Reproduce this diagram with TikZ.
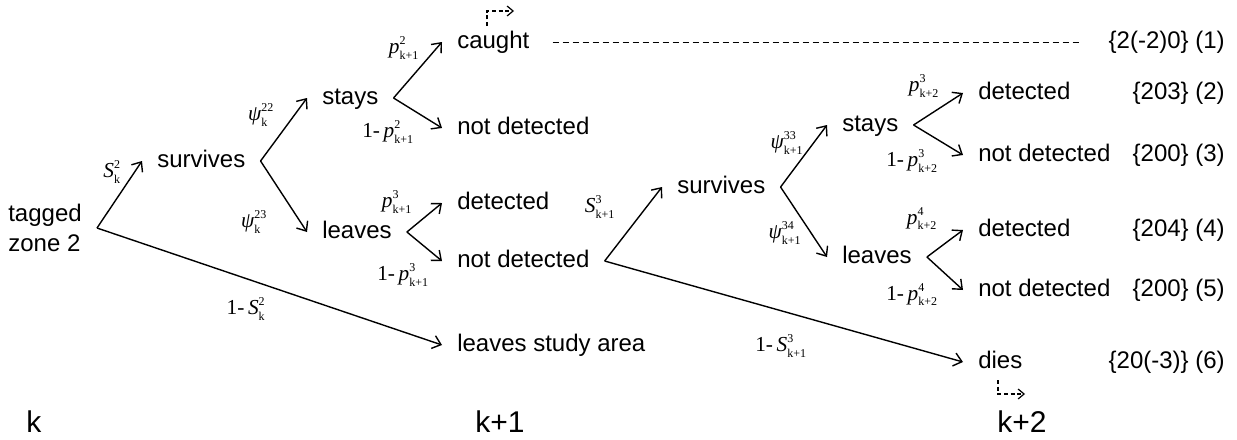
\documentclass[tikz,border=0pt]{standalone}
\usepackage{fontspec}
\usepackage{amsmath}
\setmainfont{Liberation Sans}
\newfontfamily\tnr{Liberation Serif}
\usetikzlibrary{arrows.meta}
\newcommand{\scr}[1]{\hbox{\fontsize{9}{9}\selectfont\tnr #1}}
\newcommand{\ml}[3]{$\hbox{\tnr\itshape #1}^{\scr{#2}}_{\scr{#3}}$}
\newcommand{\oml}[3]{{\tnr 1-\,}\ml{#1}{#2}{#3}}
\begin{document}
\begin{tikzpicture}[x=0.75pt,y=-0.75pt,
  txt/.style={font=\fontsize{18}{21}\selectfont, inner xsep=11.25pt, inner ysep=0pt, text height=13pt, text depth=3.5pt, anchor=west},
  res/.style={font=\fontsize{18}{21}\selectfont, inner sep=0pt, text height=13pt, text depth=3.5pt, anchor=east},
  lab/.style={font=\fontsize{16}{18}\selectfont, inner sep=0pt},
  tick/.style={font=\fontsize{22.5}{26}\selectfont, inner sep=0pt, anchor=base west},
  arr/.style={line width=1.05pt, -{Straight Barb[length=6pt,width=10pt]}},
  mk/.style={line width=0.9pt, dash pattern=on 3pt off 2pt, -{Straight Barb[length=4.5pt,width=7.5pt]}},
  dline/.style={line width=0.75pt, dash pattern=on 4.5pt off 3pt}]
\useasboundingbox (0,0) rectangle (1237,439);
% main nodes
\node[font=\fontsize{18}{22.5}\selectfont, inner xsep=11.25pt, inner ysep=0pt, align=left, anchor=east] (tag) at (97,228) {tagged\\zone 2};
\node[txt] (surv1) at (142,161) {survives};
\node[txt] (stays1) at (307,98) {stays};
\node[txt] (leaves1) at (307,232) {leaves};
\node[txt] (caught) at (442,42) {caught};
\node[txt] (nd1) at (442,128) {not detected};
\node[txt] (det1) at (442,203) {detected};
\node[txt] (nd2) at (442,261) {not detected};
\node[txt] (lsa) at (442,345) {leaves study area};
\node[txt] (surv2) at (662,187) {survives};
\node[txt] (stays2) at (827,125) {stays};
\node[txt] (leaves2) at (827,257) {leaves};
\node[txt] (det2) at (963,93) {detected};
\node[txt] (nd3) at (963,155) {not detected};
\node[txt] (det3) at (963,230) {detected};
\node[txt] (nd4) at (963,290) {not detected};
\node[txt] (dies) at (963,362) {dies};
% result labels
\node[res] (r1) at (1225,42) {\{2(-2)0\} (1)};
\node[res] (r2) at (1225,93) {\{203\} (2)};
\node[res] (r3) at (1225,155) {\{200\} (3)};
\node[res] (r4) at (1225,230) {\{204\} (4)};
\node[res] (r5) at (1225,290) {\{200\} (5)};
\node[res] (r6) at (1225,362) {\{20(-3)\} (6)};
% time labels
\node[tick] (tk) at (26,432) {k};
\node[tick] (tk1) at (475,432) {k+1};
\node[tick] (tk2) at (997,432) {k+2};
% connectors
\draw[arr] (tag.east) -- (surv1.west);
\draw[arr] (tag.east) -- (lsa.west);
\draw[arr] (surv1.east) -- (stays1.west);
\draw[arr] (surv1.east) -- (leaves1.west);
\draw[arr] (stays1.east) -- (caught.west);
\draw[arr] (stays1.east) -- (nd1.west);
\draw[arr] (leaves1.east) -- (det1.west);
\draw[arr] (leaves1.east) -- (nd2.west);
\draw[arr] (nd2.east) -- (surv2.west);
\draw[arr] (nd2.east) -- (dies.west);
\draw[arr] (surv2.east) -- (stays2.west);
\draw[arr] (surv2.east) -- (leaves2.west);
\draw[arr] (stays2.east) -- (det2.west);
\draw[arr] (stays2.east) -- (nd3.west);
\draw[arr] (leaves2.east) -- (det3.west);
\draw[arr] (leaves2.east) -- (nd4.west);
\draw[dline, shorten <=6pt, shorten >=22pt] (caught.east) -- (r1.west);
% small dashed markers
\coordinate (m1a) at (487,26);
\coordinate (m1b) at (514,11);
\draw[mk] (m1a) |- (m1b);
\coordinate (m2a) at (998,380);
\coordinate (m2b) at (1025,394);
\draw[mk] (m2a) |- (m2b);
% probability labels
\node[lab] (lS1) at (112,172) {\ml{S}{2}{k}};
\node[lab] (lpsi22) at (261,115) {\ml{ψ}{22}{k}};
\node[lab] (lpsi23) at (254,222) {\ml{ψ}{23}{k}};
\node[lab] (lp2a) at (404,48) {\ml{p}{2}{k+1}};
\node[lab] (lp2b) at (388,132) {\oml{p}{2}{k+1}};
\node[lab] (lp3a) at (397,202) {\ml{p}{3}{k+1}};
\node[lab] (lp3b) at (403,275) {\oml{p}{3}{k+1}};
\node[lab] (l1S1) at (246,309) {\oml{S}{2}{k}};
\node[lab] (lS3) at (600,207) {\ml{S}{3}{k+1}};
\node[lab] (l1S3) at (781,346) {\oml{S}{3}{k+1}};
\node[lab] (lpsi33) at (787,143) {\ml{ψ}{33}{k+1}};
\node[lab] (lpsi34) at (785,233) {\ml{ψ}{34}{k+1}};
\node[lab] (lp3c) at (924,86) {\ml{p}{3}{k+2}};
\node[lab] (lp3d) at (912,161) {\oml{p}{3}{k+2}};
\node[lab] (lp4a) at (922,219) {\ml{p}{4}{k+2}};
\node[lab] (lp4b) at (912,295) {\oml{p}{4}{k+2}};
\end{tikzpicture}
\end{document}
